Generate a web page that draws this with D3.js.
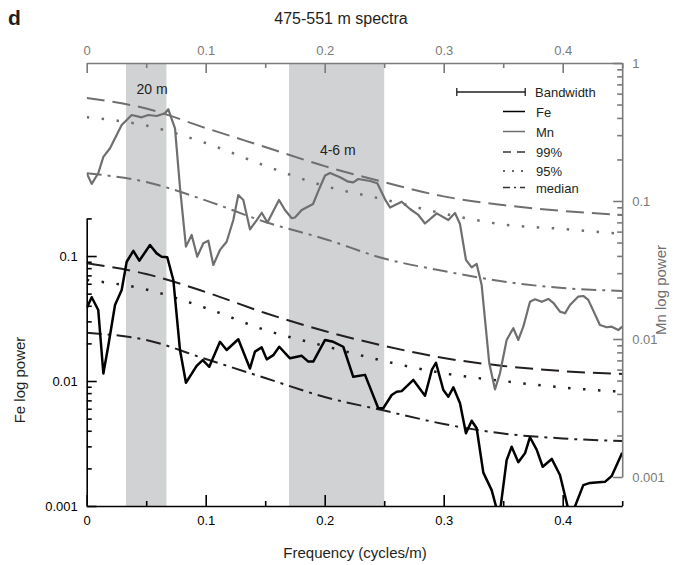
<!DOCTYPE html>
<html>
<head>
<meta charset="utf-8">
<script src="https://cdn.jsdelivr.net/npm/d3@7"></script>
<style>
  body { margin: 0; background: #fff; }
  svg { font-family: "Liberation Sans", Arial, Helvetica, sans-serif; }
</style>
</head>
<body>
<svg id="chart" width="679" height="565"></svg>
<script>
// ---- Spectral data (frequency in cycles/m, power) ----
const feFreq = [0,0.0042,0.0097,0.014,0.018,0.0238,0.0294,0.0336,0.0392,0.0442,0.0532,0.0588,0.063,0.0677,0.0728,0.0784,0.0834,0.0924,0.0975,0.103,0.112,0.1176,0.1274,0.1372,0.1414,0.147,0.1513,0.1568,0.1618,0.1708,0.1807,0.1862,0.1904,0.2003,0.2072,0.2156,0.224,0.2339,0.245,0.2492,0.2563,0.2605,0.2647,0.2745,0.2843,0.29,0.2935,0.2997,0.3039,0.3081,0.3137,0.3187,0.3235,0.3277,0.3333,0.3403,0.3466,0.3529,0.3571,0.3627,0.3683,0.3725,0.3782,0.3832,0.3908,0.3977,0.4065,0.4173,0.4229,0.4355,0.4412,0.45];
const fePower = [0.0382,0.0468,0.037,0.0115,0.0188,0.0406,0.0535,0.09,0.11,0.0917,0.1225,0.105,0.0986,0.0977,0.0643,0.0177,0.00969,0.0132,0.0147,0.013,0.0206,0.0177,0.0216,0.0126,0.0172,0.0186,0.0149,0.0161,0.0188,0.0152,0.0159,0.0143,0.0143,0.0213,0.0206,0.0188,0.0108,0.0112,0.00605,0.00605,0.00773,0.0082,0.0083,0.0102,0.00763,0.01225,0.014,0.00847,0.00748,0.0089,0.00663,0.00382,0.00481,0.00419,0.00185,0.00134,0.0008,0.00233,0.00298,0.00224,0.00264,0.00355,0.00281,0.00206,0.00238,0.00177,0.0008,0.00147,0.00153,0.00156,0.00174,0.00267];

const mnFreq = [0,0.0042,0.0097,0.014,0.0196,0.0294,0.0378,0.0462,0.0518,0.0588,0.0658,0.0686,0.0742,0.0784,0.0834,0.0882,0.0929,0.098,0.1022,0.1064,0.112,0.1176,0.1232,0.1274,0.1316,0.1372,0.1429,0.1471,0.1519,0.1616,0.1666,0.1723,0.175,0.1807,0.1902,0.1946,0.2003,0.2045,0.2129,0.2198,0.224,0.2282,0.2381,0.2442,0.2507,0.2549,0.2647,0.2717,0.2787,0.2843,0.2941,0.3039,0.3095,0.3137,0.3187,0.3235,0.3277,0.3319,0.3383,0.3431,0.3473,0.3529,0.3585,0.3627,0.3669,0.3725,0.3767,0.3824,0.3879,0.3921,0.3977,0.4019,0.4061,0.4131,0.4173,0.4215,0.4313,0.437,0.4412,0.4467,0.45];
const mnPower = [0.159,0.133,0.159,0.209,0.241,0.355,0.42,0.404,0.42,0.413,0.432,0.462,0.336,0.125,0.0467,0.0567,0.0395,0.0494,0.0515,0.0344,0.0442,0.0507,0.0728,0.1105,0.1017,0.0623,0.0728,0.0822,0.0698,0.1017,0.0861,0.075,0.0759,0.0861,0.0951,0.118,0.153,0.1596,0.1485,0.138,0.1366,0.1443,0.1396,0.1343,0.1028,0.0897,0.0988,0.0875,0.0792,0.0687,0.0814,0.0728,0.0818,0.0681,0.0374,0.033,0.035,0.0246,0.00667,0.00432,0.00564,0.00984,0.01197,0.00984,0.01228,0.0186,0.0194,0.0186,0.0195,0.0183,0.01578,0.01535,0.01762,0.0203,0.0205,0.0192,0.01262,0.01216,0.01228,0.01161,0.01228];

// Red-noise confidence levels
const levelFreq = [0,0.05,0.1,0.15,0.2,0.25,0.3,0.35,0.4,0.45];
const mn99 = [0.557,0.468,0.338,0.246,0.179,0.137,0.108,0.0935,0.0847,0.0793];
const mn95 = [0.404,0.352,0.263,0.18,0.1285,0.1026,0.081,0.0676,0.0627,0.0577];
const mnMedian = [0.159,0.1374,0.101,0.0705,0.0531,0.0383,0.0311,0.0261,0.0234,0.0223];
const fe99 = [0.0874,0.0718,0.0515,0.035,0.0251,0.0191,0.01528,0.0132,0.012,0.01138];
const fe95 = [0.0643,0.054,0.0384,0.0256,0.01905,0.01445,0.01153,0.01,0.00887,0.0082];
const feMedian = [0.0243,0.0213,0.015,0.01057,0.00745,0.0058,0.00453,0.0038,0.00347,0.00331];

// Highlighted frequency bands and their labels
const bandRanges = [[0.033, 0.067], [0.17, 0.25]];
const bandLabels = ["20 m", "4-6 m"];
const bandLabelFreq = [0.055, 0.211];
const bandwidth = 0.0575;
const bandwidthStart = 0.311;

// Axis ticks
const freqTicks = [0, 0.1, 0.2, 0.3, 0.4];
const freqMinorTicks = [0.05, 0.15, 0.25, 0.35, 0.45];
const feTicks = [0.001, 0.01, 0.1];
const mnTicks = [0.001, 0.01, 0.1, 1];

const legendItems = ["Fe", "Mn", "99%", "95%", "median"];

// ---- Layout ----
const svg = d3.select("#chart");
const plot = { left: 86.7, right: 622.2, top: 63, bottom: 506 };
const GRAY = "#6f6f6f";
const AXIS_GRAY = "#7a7a7a";

const x = d3.scaleLinear().domain([0, 0.45]).range([plot.left, plot.right]);
const yFe = d3.scaleLog().domain([0.001, 0.2]).range([plot.bottom, 218.4]);
const yMn = d3.scaleLog().domain([0.001, 1]).range([477, plot.top]);

function minorLog(lo, hi) {
  const out = [];
  for (let e = -4; e <= 1; e++) {
    for (let k = 2; k <= 9; k++) {
      const v = +(k * Math.pow(10, e)).toPrecision(3);
      if (v >= lo - 1e-12 && v <= hi + 1e-12) out.push(v);
    }
  }
  return out;
}

svg.append("defs").append("clipPath").attr("id", "plotClip")
  .append("rect")
  .attr("x", plot.left).attr("y", plot.top)
  .attr("width", plot.right - plot.left).attr("height", plot.bottom - plot.top);

// Shaded bands
svg.append("g").selectAll("rect").data(bandRanges).join("rect")
  .attr("x", d => x(d[0]))
  .attr("width", d => x(d[1]) - x(d[0]))
  .attr("y", plot.top)
  .attr("height", plot.bottom - plot.top)
  .attr("fill", "#d1d2d4");

svg.append("g").selectAll("text").data(bandLabels).join("text")
  .attr("x", (d, i) => x(bandLabelFreq[i]))
  .attr("y", (d, i) => i === 0 ? 94 : 155)
  .attr("text-anchor", "middle")
  .attr("font-size", 14)
  .attr("fill", "#231f20")
  .text(d => d);

// Line styles
const styles = {
  p99: "18,8",
  p95: "2.5,12.5",
  median: "15,6,3,6"
};

const plotG = svg.append("g").attr("clip-path", "url(#plotClip)");

function levelLine(yScale, values, color, dash) {
  const gen = d3.line()
    .x((d, i) => x(levelFreq[i]))
    .y(d => yScale(d))
    .curve(d3.curveMonotoneX);
  plotG.append("path")
    .attr("d", gen(values))
    .attr("fill", "none")
    .attr("stroke", color)
    .attr("stroke-width", dash === styles.p95 ? 2.5 : 2)
    .attr("stroke-dasharray", dash);
}

levelLine(yMn, mn99, GRAY, styles.p99);
levelLine(yMn, mn95, GRAY, styles.p95);
levelLine(yMn, mnMedian, GRAY, styles.median);
levelLine(yFe, fe99, "#231f20", styles.p99);
levelLine(yFe, fe95, "#231f20", styles.p95);
levelLine(yFe, feMedian, "#231f20", styles.median);

// Spectra
const mnLine = d3.line().x((d, i) => x(mnFreq[i])).y(d => yMn(d));
plotG.append("path")
  .attr("d", mnLine(mnPower))
  .attr("fill", "none")
  .attr("stroke", GRAY)
  .attr("stroke-width", 2.2)
  .attr("stroke-linejoin", "round");

const feLine = d3.line().x((d, i) => x(feFreq[i])).y(d => yFe(d));
plotG.append("path")
  .attr("d", feLine(fePower))
  .attr("fill", "none")
  .attr("stroke", "#000")
  .attr("stroke-width", 2.5)
  .attr("stroke-linejoin", "round");

// ---- Axes ----
function styleAxis(g, color, width) {
  g.attr("font-family", null).attr("font-size", 13).attr("color", color);
  g.selectAll("path.domain").attr("stroke-width", width);
  g.selectAll(".tick line").attr("stroke-width", width);
}

const fmt = d => String(d);

// bottom
const gB = svg.append("g").attr("transform", `translate(0,${plot.bottom})`);
gB.call(d3.axisBottom(x).tickValues(freqTicks).tickSizeInner(-11).tickSizeOuter(0).tickPadding(10).tickFormat(fmt));
styleAxis(gB, "#000", 1.6);
svg.append("g").attr("transform", `translate(0,${plot.bottom})`)
  .call(d3.axisBottom(x).tickValues(freqMinorTicks).tickSizeInner(-5).tickSizeOuter(0).tickFormat(""))
  .call(g => { g.select(".domain").remove(); styleAxis(g, "#000", 1.6); });

// top
const gT = svg.append("g").attr("transform", `translate(0,${plot.top})`);
gT.call(d3.axisTop(x).tickValues(freqTicks).tickSizeInner(-10).tickSizeOuter(0).tickPadding(8).tickFormat(fmt));
styleAxis(gT, AXIS_GRAY, 1.6);
svg.append("g").attr("transform", `translate(0,${plot.top})`)
  .call(d3.axisTop(x).tickValues(freqMinorTicks).tickSizeInner(-5).tickSizeOuter(0).tickFormat(""))
  .call(g => { g.select(".domain").remove(); styleAxis(g, AXIS_GRAY, 1.6); });

// left (Fe)
const gL = svg.append("g").attr("transform", `translate(${plot.left},0)`);
gL.call(d3.axisLeft(yFe).tickValues(feTicks).tickSizeInner(-10).tickSizeOuter(0).tickPadding(9).tickFormat(fmt));
styleAxis(gL, "#000", 1.6);
svg.append("g").attr("transform", `translate(${plot.left},0)`)
  .call(d3.axisLeft(yFe).tickValues(minorLog(0.001, 0.2)).tickSizeInner(-5).tickSizeOuter(0).tickFormat(""))
  .call(g => { g.select(".domain").remove(); styleAxis(g, "#000", 1.6); });

// right (Mn)
const gR = svg.append("g").attr("transform", `translate(${plot.right},0)`);
gR.call(d3.axisRight(yMn).tickValues(mnTicks).tickSizeInner(-9).tickSizeOuter(0).tickPadding(10).tickFormat(fmt));
styleAxis(gR, AXIS_GRAY, 1.6);
svg.append("g").attr("transform", `translate(${plot.right},0)`)
  .call(d3.axisRight(yMn).tickValues(minorLog(0.001, 1)).tickSizeInner(-5).tickSizeOuter(0).tickFormat(""))
  .call(g => { g.select(".domain").remove(); styleAxis(g, AXIS_GRAY, 1.6); });

// ---- Titles ----
svg.append("text").attr("x", 8).attr("y", 25).attr("font-size", 21).attr("font-weight", "bold")
  .attr("fill", "#231f20").text("d");
svg.append("text").attr("x", 341).attr("y", 24).attr("text-anchor", "middle").attr("font-size", 16)
  .attr("fill", "#231f20").text("475-551 m spectra");
svg.append("text").attr("x", 355).attr("y", 558).attr("text-anchor", "middle").attr("font-size", 15)
  .attr("fill", "#231f20").text("Frequency (cycles/m)");
svg.append("text").attr("transform", "translate(25,380) rotate(-90)").attr("text-anchor", "middle")
  .attr("font-size", 15).attr("fill", "#231f20").text("Fe log power");
svg.append("text").attr("transform", "translate(666,290) rotate(-90)").attr("text-anchor", "middle")
  .attr("font-size", 15).attr("fill", GRAY).text("Mn log power");

// ---- Legend ----
const lg = svg.append("g");
const bwY = 92;
const bx0 = x(bandwidthStart), bx1 = x(bandwidthStart + bandwidth);
lg.append("line").attr("x1", bx0).attr("x2", bx1).attr("y1", bwY).attr("y2", bwY)
  .attr("stroke", "#231f20").attr("stroke-width", 1.3);
[bx0, bx1].forEach(bx => lg.append("line").attr("x1", bx).attr("x2", bx)
  .attr("y1", bwY - 4).attr("y2", bwY + 4).attr("stroke", "#231f20").attr("stroke-width", 1.3));
lg.append("text").attr("x", 535).attr("y", bwY + 5).attr("font-size", 13).attr("fill", "#231f20").text("Bandwidth");

const legendY = [111.5, 131.5, 152, 171, 187.5];
const legendColor = ["#000", GRAY, "#333", "#333", "#333"];
const legendDash = [null, null, "8,6", "2,7", "7,4,2,4"];
const legendWidth = [1.5, 1.5, 1.5, 1.6, 1.5];
lg.selectAll("line.item").data(legendItems).join("line")
  .attr("class", "item")
  .attr("x1", 503).attr("x2", 525)
  .attr("y1", (d, i) => legendY[i]).attr("y2", (d, i) => legendY[i])
  .attr("stroke", (d, i) => legendColor[i])
  .attr("stroke-width", (d, i) => legendWidth[i])
  .attr("stroke-dasharray", (d, i) => legendDash[i]);
lg.selectAll("text.item").data(legendItems).join("text")
  .attr("class", "item")
  .attr("x", 536)
  .attr("y", (d, i) => legendY[i] + 5)
  .attr("font-size", 13)
  .attr("fill", "#231f20")
  .text(d => d);
</script>
</body>
</html>
